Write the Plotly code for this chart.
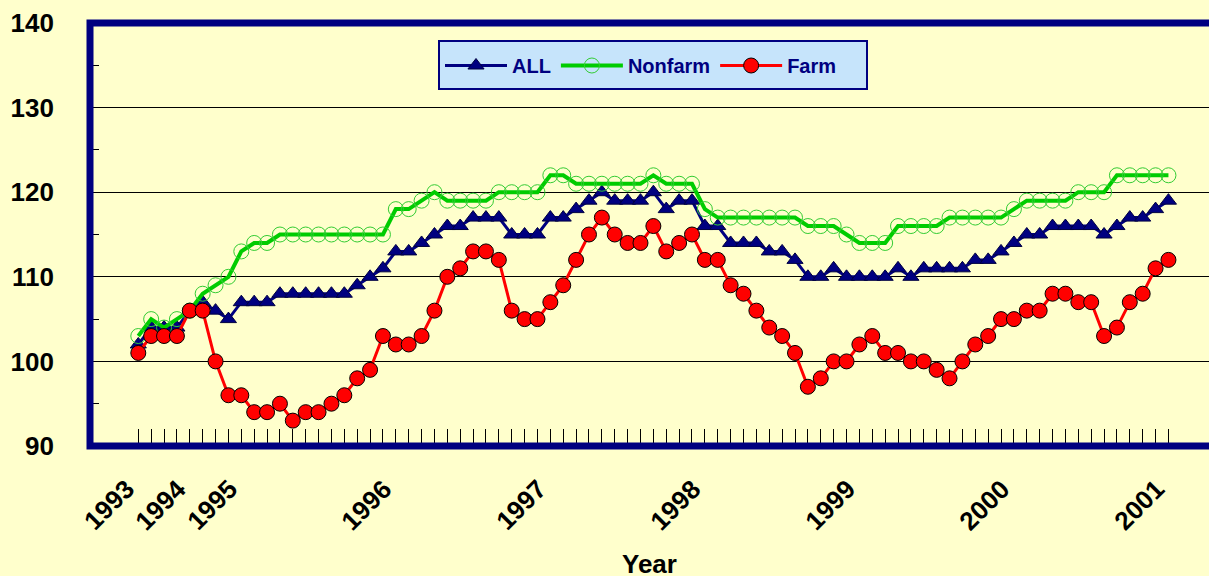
import plotly.graph_objects as go

# ---- data ----
all_idx = [102, 104, 104, 104, 106, 107, 106, 105, 107, 107,
           107, 108, 108, 108, 108, 108, 108, 109, 110, 111,
           113, 113, 114, 115, 116, 116, 117, 117, 117, 115,
           115, 115, 117, 117, 118, 119, 120, 119, 119, 119,
           120, 118, 119, 119, 116, 116, 114, 114, 114, 113,
           113, 112, 110, 110, 111, 110, 110, 110, 110, 111,
           110, 111, 111, 111, 111, 112, 112, 113, 114, 115,
           115, 116, 116, 116, 116, 115, 116, 117, 117, 118,
           119]
nonfarm = [103, 105, 104, 105, 106, 108, 109, 110, 113, 114,
           114, 115, 115, 115, 115, 115, 115, 115, 115, 115,
           118, 118, 119, 120, 119, 119, 119, 119, 120, 120,
           120, 120, 122, 122, 121, 121, 121, 121, 121, 121,
           122, 121, 121, 121, 118, 117, 117, 117, 117, 117,
           117, 117, 116, 116, 116, 115, 114, 114, 114, 116,
           116, 116, 116, 117, 117, 117, 117, 117, 118, 119,
           119, 119, 119, 120, 120, 120, 122, 122, 122, 122,
           122]
farm = [101, 103, 103, 103, 106, 106, 100, 96, 96, 94,
        94, 95, 93, 94, 94, 95, 96, 98, 99, 103,
        102, 102, 103, 106, 110, 111, 113, 113, 112, 106,
        105, 105, 107, 109, 112, 115, 117, 115, 114, 114,
        116, 113, 114, 115, 112, 112, 109, 108, 106, 104,
        103, 101, 97, 98, 100, 100, 102, 103, 101, 101,
        100, 100, 99, 98, 100, 102, 103, 105, 105, 106,
        106, 108, 108, 107, 107, 103, 104, 107, 108, 111,
        112]
year_labels = ["1993", "1994", "1995", "1996", "1997", "1998", "1999", "2000", "2001"]
year_label_period = [0, 4, 8, 20, 32, 44, 56, 68, 80]   # period index where each year begins

periods = list(range(len(farm)))

NAVY = "#000080"
BG = "#FFFFCC"
FONT = "Liberation Sans, Arial, sans-serif"

fig = go.Figure()
fig.add_trace(go.Scatter(
    x=periods, y=all_idx, name="ALL", mode="lines+markers",
    line=dict(color=NAVY, width=3),
    marker=dict(symbol="triangle-up", size=14, color=NAVY, line=dict(color="#000040", width=1)),
))
fig.add_trace(go.Scatter(
    x=periods, y=nonfarm, name="Nonfarm", mode="lines+markers",
    line=dict(color="#00CC00", width=4),
    marker=dict(symbol="circle-open", size=15, color="#33CC33", line=dict(color="#33CC33", width=1)),
))
fig.add_trace(go.Scatter(
    x=periods, y=farm, name="Farm", mode="lines+markers",
    line=dict(color="#FF0000", width=3),
    marker=dict(symbol="circle", size=15, color="#FF0000", line=dict(color="#000000", width=1)),
))

# plot area in pixels: left 90, right 1209, top 23, bottom 446
PL, PR, PT, PB = 90, 1209, 23, 446
def px_x(px):
    return (px - PL) / (PR - PL)
def px_y(py):
    return (PB - py) / (PB - PT)

annotations = [dict(
    text="Year", xref="paper", yref="paper", x=0.5, y=px_y(564),
    xanchor="center", yanchor="middle", showarrow=False,
    font=dict(family=FONT, size=26, weight="bold", color="black"),
)]
for per, lab in zip(year_label_period, year_labels):
    annotations.append(dict(
        text=lab, x=per, xref="x", y=px_y(472), yref="paper",
        xanchor="right", yanchor="top", textangle=-45, showarrow=False,
        xshift=3, borderpad=0,
        font=dict(family=FONT, size=26, weight="bold", color="black"),
    ))

fig.update_layout(
    width=1209, height=576,
    margin=dict(l=PL, r=1209 - PR, t=PT, b=576 - PB),
    paper_bgcolor=BG, plot_bgcolor=BG,
    font=dict(family=FONT, color="black"),
    legend=dict(
        orientation="h", x=px_x(440), y=px_y(46), xanchor="left", yanchor="top",
        bgcolor="rgba(0,0,0,0)", borderwidth=0,
        font=dict(family=FONT, size=20, color=NAVY, weight="bold"),
        itemwidth=62,
    ),
    xaxis=dict(
        range=[-3.75, 83.15], tickmode="array", tickvals=periods,
        ticktext=[""] * len(periods),
        ticks="inside", ticklen=17, tickcolor="black", tickwidth=1,
        showgrid=False, zeroline=False, showline=False,
    ),
    yaxis=dict(
        range=[90, 140], dtick=10, tick0=90,
        ticks="inside", ticklen=18, tickcolor="black", tickwidth=1,
        minor=dict(dtick=5, ticks="inside", ticklen=9, tickcolor="black", showgrid=False),
        tickfont=dict(family=FONT, size=26, weight="bold", color="black"),
        ticklabelstandoff=35,
        showgrid=True, gridcolor="black", gridwidth=1,
        zeroline=False, showline=False,
    ),
    shapes=[
        dict(type="rect", xref="paper", yref="paper",
             x0=px_x(439), x1=px_x(867), y0=px_y(89), y1=px_y(41),
             fillcolor="#C6E4FB", line=dict(color=NAVY, width=2), layer="above"),
        dict(type="path", xref="paper", yref="paper",
             path="M 1.02,1 L 0,1 L 0,0 L 1.02,0",
             line=dict(color=NAVY, width=7), layer="above"),
    ],
    annotations=annotations,
)

fig.write_html("out.html", config={"displayModeBar": False},
               post_script="document.body.style.margin='0';")
